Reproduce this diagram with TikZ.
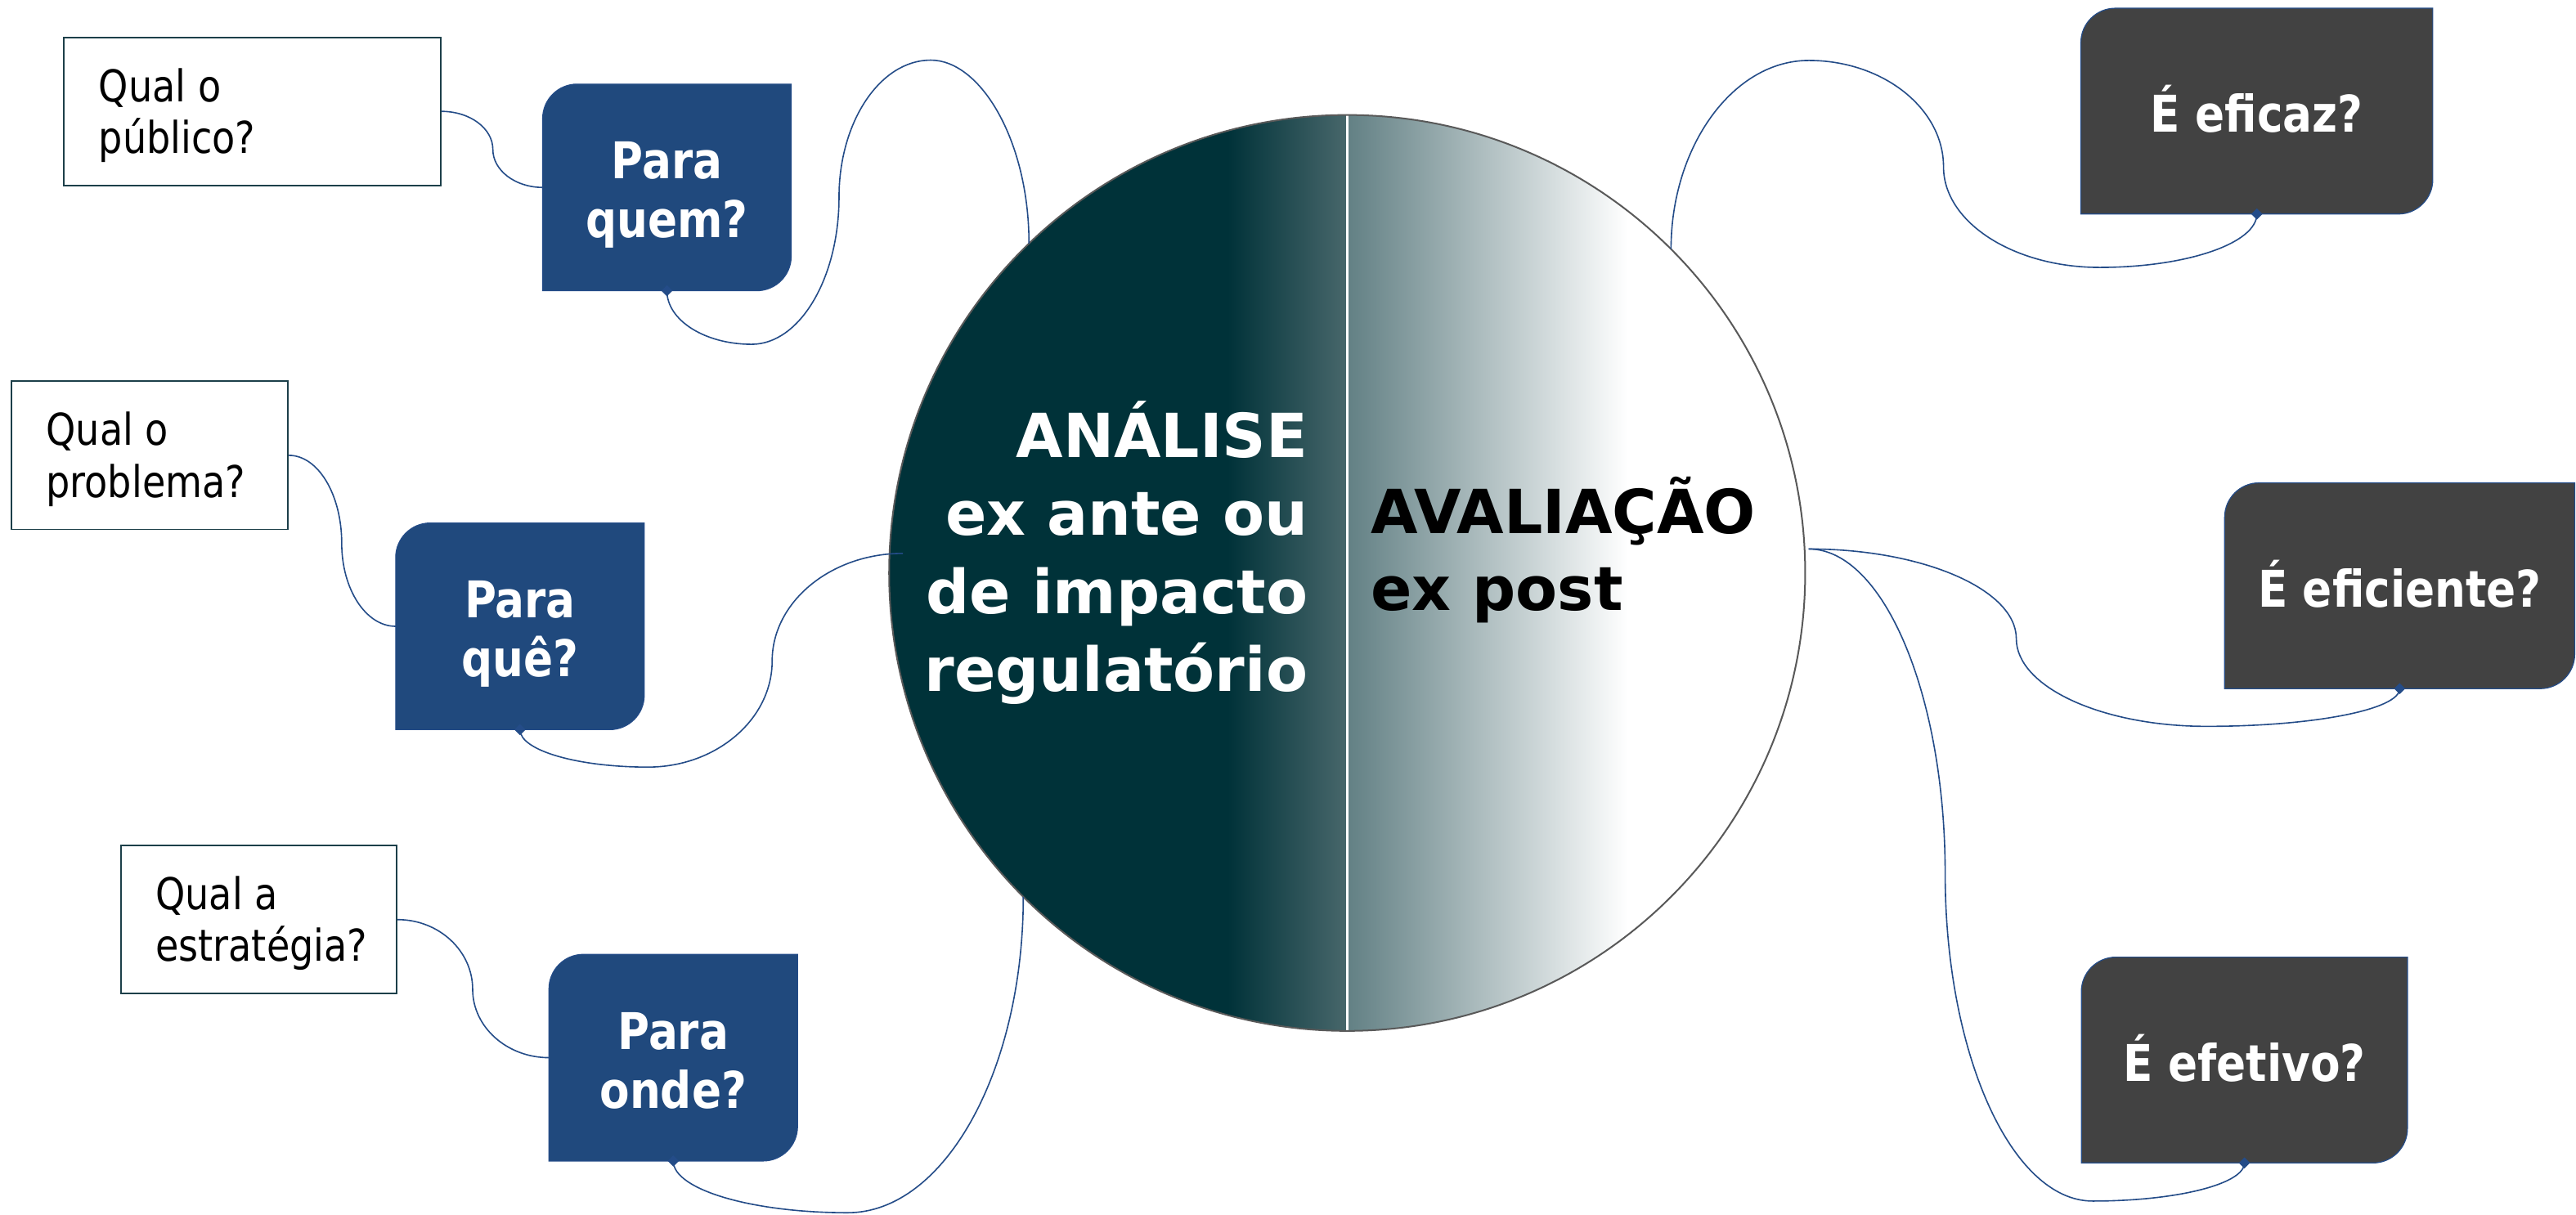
\documentclass[tikz,border=0pt]{standalone}
\usepackage{fontspec}
\setmainfont{DejaVu Sans}
\newfontfamily\tahoma[FakeStretch=0.86]{DejaVu Sans}
\usetikzlibrary{calc}
\pgfdeclarelayer{bg}
\pgfsetlayers{bg,main}
\definecolor{boxblue}{RGB}{32,73,125}
\definecolor{boxgray}{RGB}{66,66,66}
\definecolor{conn}{RGB}{36,76,136}
\definecolor{tealdark}{RGB}{0,50,57}
\definecolor{mida}{RGB}{72,103,107}
\definecolor{midb}{RGB}{98,128,132}
\definecolor{wborder}{RGB}{28,63,73}
\definecolor{cborder}{RGB}{89,89,89}
\newcommand\mybox[2]{%
  \path[fill=#2, draw=conn, line width=0.6pt]
    ([xshift=21pt]#1.north west) -- (#1.north east) -- ([yshift=21pt]#1.south east)
    .. controls ([yshift=9.4pt]#1.south east) and ([xshift=-9.4pt]#1.south east) .. ([xshift=-21pt]#1.south east)
    -- (#1.south west) -- ([yshift=-21pt]#1.north west)
    .. controls ([yshift=-9.4pt]#1.north west) and ([xshift=9.4pt]#1.north west) .. ([xshift=21pt]#1.north west) -- cycle;}
\newcommand\qtext[2]{\makebox[#1][l]{\begin{tabular}[b]{@{}l@{}}#2\end{tabular}}}
\newcommand\ptext[1]{\begin{tabular}[b]{@{}c@{}}#1\end{tabular}}
\newcommand\marker[1]{\fill[conn] ($(#1)+(0,3.4)$) -- ($(#1)+(3.4,0)$) -- ($(#1)+(0,-3.4)$) -- ($(#1)+(-3.4,0)$) -- cycle;}
\tikzset{
  qbox/.style={draw=wborder, line width=0.9pt, fill=white, rectangle, inner sep=0pt,
    minimum height=90.2pt, text height=50.9pt, text depth=0pt, text=black,
    font=\tahoma\fontsize{26.7}{31.5}\selectfont},
  pbox/.style={rectangle, inner sep=0pt, minimum width=150.9pt, minimum height=125.4pt,
    text=white, text height=61.2pt, text depth=0pt,
    font=\tahoma\bfseries\fontsize{30.8}{35.7}\selectfont},
  ebox/.style={rectangle, inner sep=0pt, minimum height=124.9pt, text=white,
    text height=25.7pt, text depth=0pt,
    font=\tahoma\bfseries\fontsize{30.8}{36}\selectfont},
  ctext/.style={inner sep=0pt, font=\bfseries\fontsize{37}{47.6}\selectfont},
  link/.style={draw=conn, line width=0.8pt}
}
\begin{document}
\begin{tikzpicture}[x=1pt,y=-1pt]
\useasboundingbox (0,0) rectangle (1568,739.2);

% central circle
\node[circle, draw=cborder, line width=1pt, inner sep=0pt, outer sep=0pt, minimum size=557.6pt] (c) at (820,348.8) {};
\node[ctext, text=white, anchor=base east] (tl) at (796.2,421.1)
  {\begin{tabular}[b]{@{}r@{}}ANÁLISE\\ex ante ou\\de impacto\\regulatório\end{tabular}};
\node[ctext, text=black, anchor=base west] (tr) at (834.3,324.8)
  {\fontsize{37}{46.9}\selectfont\begin{tabular}[t]{@{}l@{}}AVALIAÇÃO\\ex post\end{tabular}};

% question boxes (left)
\node[qbox, minimum width=229.3pt] (q1) at (153.55,67.8) {\qtext{186.9pt}{Qual o\\público?}};
\node[qbox, minimum width=168.4pt] (q2) at (91.1,277.2) {\qtext{126pt}{Qual o\\problema?}};
\node[qbox, minimum width=168pt] (q3) at (157.5,559.85) {\qtext{125.6pt}{Qual a\\estratégia?}};

% blue boxes
\node[pbox] (p1) at (405.95,114.1) {\ptext{Para\\quem?}};
\node[pbox] (p2) at (316.5,381.3) {\ptext{Para\\quê?}};
\node[pbox] (p3) at (409.8,643.9) {\ptext{Para\\onde?}};

% gray boxes
\node[ebox, minimum width=213.8pt] (e1) at (1373.7,67.65) {É eficaz?};
\node[ebox, minimum width=212.7pt] (e2) at (1460.65,356.6) {É eficiente?};
\node[ebox, minimum width=198.1pt] (e3) at (1366.15,645.35) {É efetivo?};

\coordinate (ce) at (549.6,336.9);
\coordinate (cr) at ($(c.3)+(2.5,0)$);

\begin{pgfonlayer}{bg}
  \fill[white] (0,0) rectangle (1568,739.2);
  \begin{scope}
    \clip (c.center) circle[radius=278.8pt];
    \fill[tealdark] (530,60) rectangle (748,640);
    \shade[left color=tealdark, right color=mida] (747.4,60) rectangle (820,640);
    \shade[left color=midb, right color=white] (820,60) rectangle (991,640);
  \end{scope}
  \draw[white, line width=1.2pt] (c.north) -- (c.south);
  \mybox{p1}{boxblue}
  \mybox{p2}{boxblue}
  \mybox{p3}{boxblue}
  \mybox{e1}{boxgray}
  \mybox{e2}{boxgray}
  \mybox{e3}{boxgray}
\end{pgfonlayer}

% connectors left
\draw[link] (q1.east) .. controls +(17.5,0) and +(0,-12.8) .. (300,91)
  .. controls +(0,12.7) and +(-16.7,0) .. (p1.west);
\draw[link] (q2.east) .. controls +(18,0) and +(0,-29.5) .. (208,330.8)
  .. controls +(0,27.8) and +(-18.2,0) .. (p2.west);
\draw[link] (q3.east) .. controls +(25.4,0) and +(0,-23.3) .. (287.7,602.3)
  .. controls +(0,22.9) and +(-25.6,0) .. (p3.west);
\draw[link] (p1.south) .. controls +(0,18) and +(-28.4,0) .. (457.5,209.6)
  .. controls +(29.3,0) and +(0,49.3) .. (510.7,120)
  .. controls +(0,-45.9) and +(-30.7,0) .. (566.5,36.6)
  .. controls +(30.5,0) and +(0,-62.3) .. (c.134.9);
\draw[link] (p2.south) .. controls +(0,12.7) and +(-42.8,0) .. (394.4,467)
  .. controls +(41.6,0) and +(0,35.5) .. (470,402.4)
  .. controls +(0,-36) and +(-43.8,0) .. (ce);
\draw[link] (p3.south) .. controls +(0,17.4) and +(-58.4,0) .. (516,738.3)
  .. controls +(59,0) and +(0,105.6) .. (c.225.1);

% connectors right
\draw[link] (c.45.3) .. controls +(0,-62.3) and +(-46.2,0) .. (1101,36.8)
  .. controls +(45.1,0) and +(0,-35.6) .. (1183,101.6)
  .. controls +(0,33.7) and +(-52.3,0) .. (1278,162.8)
  .. controls +(52.6,0) and +(0,17.9) .. (e1.south);
\draw[link] (cr) .. controls +(69.5,0) and +(0,-29.9) .. (1227.3,388.8)
  .. controls +(0,29.4) and +(-63.7,0) .. (1343.2,442.2)
  .. controls +(64.6,0) and +(0,12.8) .. (e2.south);
\draw[link] (cr) .. controls +(45.6,0) and +(0,-108.5) .. (1184,531.8)
  .. controls +(0,109.7) and +(-49.4,0) .. (1273.8,731.2)
  .. controls +(50.8,0) and +(0,12.9) .. (e3.south);

\marker{p1.south}
\marker{p2.south}
\marker{p3.south}
\marker{e1.south}
\marker{e2.south}
\marker{e3.south}
\end{tikzpicture}
\end{document}
